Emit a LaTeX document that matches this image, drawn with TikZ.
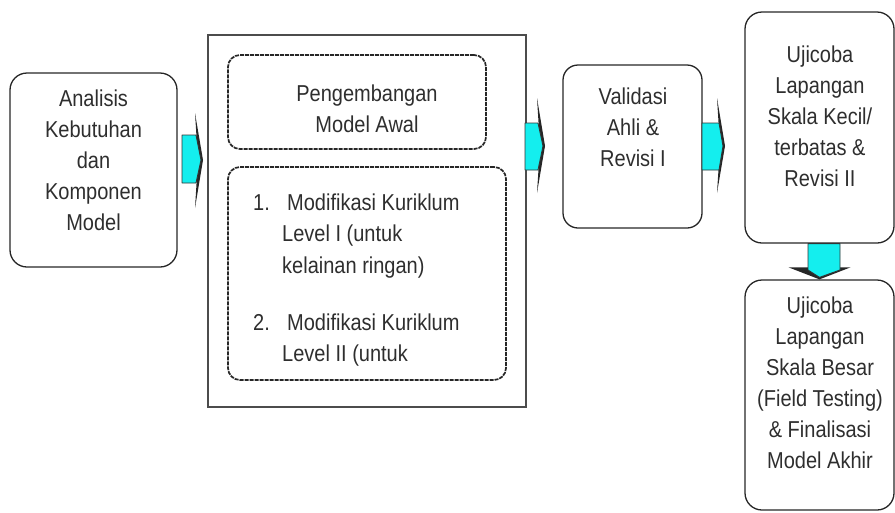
\documentclass[tikz,border=0pt]{standalone}
\usepackage{fontspec}
\setmainfont{Liberation Sans}[FakeStretch=0.87]
\definecolor{aqua}{RGB}{20,238,238}
\begin{document}
\begin{tikzpicture}[x=1pt,y=-1pt,
  box/.style={draw=black!85, line width=1.3pt, rounded corners=17pt, inner sep=0pt},
  bigbox/.style={draw=black!70, line width=1.8pt, inner sep=0pt},
  dbox/.style={draw=black!85, line width=1.7pt, dash pattern=on 4pt off 1pt, rounded corners=12pt, inner sep=0pt},
  txt/.style={text=black!82, font=\fontsize{23}{31}\selectfont, align=center, inner sep=0pt},
  ltxt/.style={text=black!82, font=\fontsize{23}{31}\selectfont, anchor=base west, inner sep=0pt},
  head/.style={fill=black!85},
  shaft/.style={draw=black!80, line width=0.9pt, fill=aqua, line join=round}]
\useasboundingbox (0,0) rectangle (895,512);

% boxes
\node[box, minimum width=167, minimum height=194] (b1) at (93.5,170) {};
\node[bigbox, minimum width=318, minimum height=372] (b2) at (367,221) {};
\node[dbox, minimum width=258, minimum height=94] (dA) at (357,102) {};
\node[dbox, minimum width=278, minimum height=213] (dB) at (367,273.5) {};
\node[box, rounded corners=15pt, minimum width=139, minimum height=163] (b3) at (632.5,146.5) {};
\node[box, minimum width=149, minimum height=231] (b4) at (819.5,127.5) {};
\node[box, minimum width=149, minimum height=230] (b5) at (819.5,395) {};

% texts
\node[txt] (t1) at (93.5,160) {Analisis\\Kebutuhan\\dan\\Komponen\\Model};
\node[txt] (tA) at (367,108.5) {Pengembangan\\Model Awal};
\node[ltxt] (n1) at (253,210) {1.};
\node[ltxt] (l1) at (287,210) {Modifikasi Kuriklum};
\node[ltxt] (l2) at (282,241) {Level I (untuk};
\node[ltxt] (l3) at (282,273) {kelainan ringan)};
\node[ltxt] (n2) at (253,330) {2.};
\node[ltxt] (l4) at (287,330) {Modifikasi Kuriklum};
\node[ltxt] (l5) at (282,361) {Level II (untuk};
\node[txt] (t3) at (633,127) {Validasi\\Ahli \&\\Revisi I};
\node[txt] (t4) at (820,116) {Ujicoba\\Lapangan\\Skala Kecil/\\terbatas \&\\Revisi II};
\node[txt] (t5) at (820,383) {Ujicoba\\Lapangan\\Skala Besar\\(Field Testing)\\\& Finalisasi\\Model Akhir};

% arrow 1 : b1 -> b2
\coordinate (a1) at (203,160);
\fill[head] ([shift={(-8,-47)}]a1) -- (a1) -- ([shift={(-8,48)}]a1) -- ([shift={(-5,0)}]a1) -- cycle;
\draw[shaft] ([shift={(-21,-25)}]a1) -- ([shift={(-7,-25)}]a1) -- ([shift={(-2,0)}]a1) -- ([shift={(-7,23)}]a1) -- ([shift={(-21,23)}]a1) -- cycle;

% arrow 2 : b2 -> b3
\coordinate (a2) at (545,146);
\fill[head] ([shift={(-8,-48)}]a2) -- (a2) -- ([shift={(-8,47)}]a2) -- ([shift={(-5,0)}]a2) -- cycle;
\draw[shaft] ([shift={(-20,-23)}]a2) -- ([shift={(-7,-23)}]a2) -- ([shift={(-2,0)}]a2) -- ([shift={(-7,24)}]a2) -- ([shift={(-20,24)}]a2) -- cycle;

% arrow 3 : b3 -> b4
\coordinate (a3) at (725,146);
\fill[head] ([shift={(-8,-48)}]a3) -- (a3) -- ([shift={(-8,47)}]a3) -- ([shift={(-5,0)}]a3) -- cycle;
\draw[shaft] ([shift={(-23,-23)}]a3) -- ([shift={(-6,-23)}]a3) -- ([shift={(-2,0)}]a3) -- ([shift={(-6,24)}]a3) -- ([shift={(-23,24)}]a3) -- cycle;

% arrow 4 : b4 -> b5
\coordinate (a4) at (b5.north);
\fill[head] ([shift={(-31,-12)}]a4) -- ([shift={(31,-12)}]a4) -- (a4) -- cycle;
\draw[shaft] (b4.south -| 808,0) -- (b4.south -| 840,0) -- (840,270) -- ([shift={(0,-2)}]a4) -- (808,270) -- cycle;
\end{tikzpicture}
\end{document}
